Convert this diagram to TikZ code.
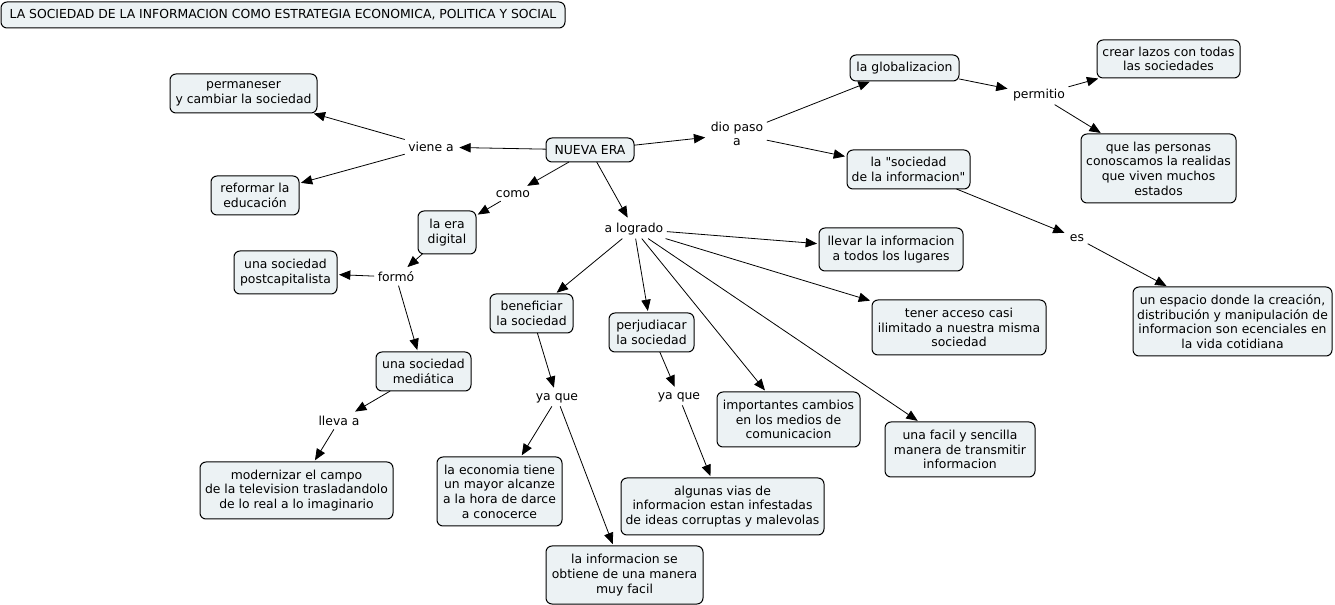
\documentclass[tikz,border=0pt]{standalone}
\usepackage{fontspec}
\setmainfont{DejaVu Sans}
\newfontfamily\qfont{DejaVu Sans}
\usetikzlibrary{arrows.meta}
\definecolor{cfill}{RGB}{236,242,244}
\begin{document}
\begin{tikzpicture}[x=0.75pt,y=-0.75pt,
  concept/.style={draw=black, line width=0.75pt, fill=cfill, rounded corners=4.5pt, inner sep=0pt, outer sep=0pt, align=center, font=\fontsize{9.3pt}{11pt}\selectfont},
  sz/.style 2 args={minimum width={#1*0.75pt}, minimum height={#2*0.75pt}},
  link/.style={inner sep=2.5pt, align=center, font=\fontsize{9.3pt}{11pt}\selectfont},
  conn/.style={line width=0.6pt, -{Triangle[length=8.5pt,width=7pt]}, shorten >=1.5pt}
]
\useasboundingbox (0,0) rectangle (1335,605);
% concepts
\node[concept, sz={564}{26}] (title) at (283,15) {LA SOCIEDAD DE LA INFORMACION COMO ESTRATEGIA ECONOMICA, POLITICA Y SOCIAL};
\node[concept, sz={147}{39}] (perm) at (243.5,93.5) {permaneser\\y cambiar la sociedad};
\node[concept, sz={88}{39}] (ref) at (255,195.5) {reformar la\\educación};
\node[concept, sz={88}{24}] (nueva) at (590,150) {NUEVA ERA};
\node[concept, sz={58}{43}] (era) at (447,232.5) {la era\\digital};
\node[concept, sz={103}{43}] (post) at (285.5,272.5) {una sociedad\\postcapitalista};
\node[concept, sz={95}{39}] (med) at (423.5,371.5) {una sociedad\\mediática};
\node[concept, sz={193}{57}] (mod) at (296.5,490.5) {modernizar el campo\\de la television trasladandolo\\de lo real a lo imaginario};
\node[concept, sz={83}{39}] (ben) at (531.5,313.5) {beneficiar\\la sociedad};
\node[concept, sz={85}{39}] (perj) at (651.5,332.5) {perjudiacar\\la sociedad};
\node[concept, sz={125}{69}] (eco) at (499.5,491.5) {la economia tiene\\un mayor alcanze\\a la hora de darce\\a conocerce};
\node[concept, sz={157}{58}] (infse) at (624.5,575) {la informacion se\\obtiene de una manera\\muy facil};
\node[concept, sz={203}{57}] (vias) at (722.5,506.5) {algunas vias de\\informacion estan infestadas\\de ideas corruptas y malevolas};
\node[concept, sz={143}{55}] (camb) at (788.5,419.5) {importantes cambios\\en los medios de\\comunicacion};
\node[concept, sz={144}{43}] (llevar) at (891,249.5) {llevar la informacion\\a todos los lugares};
\node[concept, sz={174}{55}] (acceso) at (959,327.5) {tener acceso casi\\ilimitado a nuestra misma\\sociedad};
\node[concept, sz={150}{55}] (facil) at (960,449.5) {una facil y sencilla\\manera de transmitir\\informacion};
\node[concept, sz={109}{26}] (glob) at (904.5,68) {la globalizacion};
\node[concept, sz={143}{38}] (lazos) at (1168.5,59) {crear lazos con todas\\las sociedades};
\node[concept, sz={155}{69}] (pers) at (1158.5,168.5) {que las personas\\conoscamos la realidas\\que viven muchos\\estados};
\node[concept, sz={123}{39}] (soc) at (908.5,169.5) {la {\qfont"}sociedad\\de la informacion{\qfont"}};
\node[concept, sz={199}{69}] (esp) at (1232.5,321.5) {un espacio donde la creación,\\distribución y manipulación de\\informacion son ecenciales en\\la vida cotidiana};
% linking phrases
\node[link] (viene) at (431,147) {viene a};
\node[link] (como) at (513,194) {como};
\node[link] (dio) at (737,134) {dio paso\\a};
\node[link] (logr) at (634,229) {a logrado};
\node[link] (formo) at (396,277) {formó};
\node[link] (lleva) at (339,421) {lleva a};
\node[link] (yqa) at (557,398) {ya que};
\node[link] (yqb) at (679,397) {ya que};
\node[link] (permitio) at (1039,95) {permitio};
\node[link] (es) at (1077,238) {es};
% connectors
\draw[conn] (nueva) -- (viene);
\draw[conn] (viene) -- (perm);
\draw[conn] (viene) -- (ref);
\draw[conn] (nueva) -- (como);
\draw[conn] (como) -- (era);
\draw[conn] (nueva) -- (dio);
\draw[conn] (dio) -- (glob);
\draw[conn] (dio) -- (soc);
\draw[conn] (nueva) -- (logr);
\draw[conn] (glob) -- (permitio);
\draw[conn] (permitio) -- (lazos);
\draw[conn] (permitio) -- (pers);
\draw[conn] (soc) -- (es);
\draw[conn] (es) -- (esp);
\draw[conn] (era) -- (formo);
\draw[conn] (formo) -- (post);
\draw[conn] (formo) -- (med);
\draw[conn] (med) -- (lleva);
\draw[conn] (lleva) -- (mod);
\draw[conn] (logr) -- (ben);
\draw[conn] (logr) -- (perj);
\draw[conn] (logr) -- (camb);
\draw[conn] (logr) -- (llevar);
\draw[conn] (logr) -- (acceso);
\draw[conn] (logr) -- (facil);
\draw[conn] (ben) -- (yqa);
\draw[conn] (yqa) -- (eco);
\draw[conn] (yqa) -- (infse);
\draw[conn] (perj) -- (yqb);
\draw[conn] (yqb) -- (vias);
\end{tikzpicture}
\end{document}
